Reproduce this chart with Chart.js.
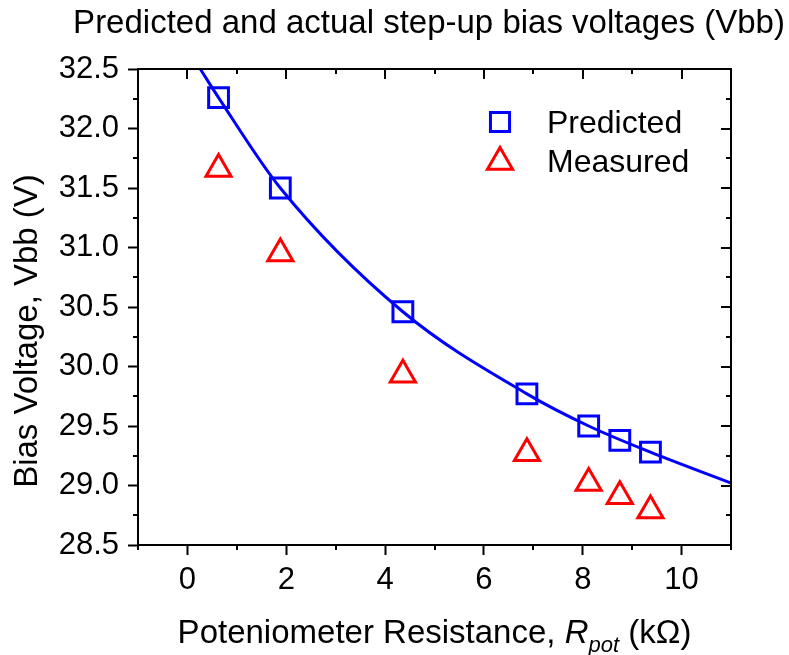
<!DOCTYPE html>
<html lang="en">
<head>
<meta charset="UTF-8">
<title>Predicted and actual step-up bias voltages (Vbb)</title>
<script src="https://cdn.jsdelivr.net/npm/chart.js"></script>
<style>
  body { margin: 0; background: #fff; }
  #wrap { width: 789px; height: 655px; }
</style>
</head>
<body>
<div id="wrap"><canvas id="chart" width="789" height="655"></canvas></div>
<script>
  // values
  const rPot = [0.63, 1.88, 4.36, 6.87, 8.12, 8.75, 9.37];
  const predicted = [32.26, 31.50, 30.46, 29.77, 29.50, 29.38, 29.28];
  const measured = [31.66, 30.95, 29.93, 29.27, 29.02, 28.91, 28.79];
  // fitted curve, points picked along the drawn line
  const fitX = [0.26, 0.63, 1.88, 4.36, 6.87, 8.12, 9.37, 11.0];
  const fitY = [32.50, 32.26, 31.50, 30.46, 29.77, 29.50, 29.28, 29.02];

  const xTicks = [0, 2, 4, 6, 8, 10];
  const xTickLabels = ['0', '2', '4', '6', '8', '10'];
  const xMinor = [-1, 1, 3, 5, 7, 9, 11];
  const yTicks = [28.5, 29.0, 29.5, 30.0, 30.5, 31.0, 31.5, 32.0, 32.5];
  const yTickLabels = ['28.5', '29.0', '29.5', '30.0', '30.5', '31.0', '31.5', '32.0', '32.5'];
  const yMinor = [28.75, 29.25, 29.75, 30.25, 30.75, 31.25, 31.75, 32.25];

  const FONT = '"Liberation Sans", Arial, sans-serif';
  const BLUE = '#0000ff';
  const RED = '#ff0000';

  const decor = {
    id: 'decor',
    afterDraw(chart) {
      const { ctx, chartArea: a, scales: { x, y } } = chart;
      ctx.save();
      ctx.strokeStyle = '#000';
      ctx.lineWidth = 2;

      // top and right frame
      ctx.beginPath();
      ctx.moveTo(a.left - 1, a.top);
      ctx.lineTo(a.right, a.top);
      ctx.lineTo(a.right, a.bottom + 1);
      ctx.stroke();

      ctx.beginPath();
      // bottom/left minor ticks (outward), top/right ticks (inward)
      xMinor.forEach(v => {
        const px = Math.round(x.getPixelForValue(v));
        ctx.moveTo(px, a.bottom); ctx.lineTo(px, a.bottom + 5);
        ctx.moveTo(px, a.top); ctx.lineTo(px, a.top + 5);
      });
      xTicks.forEach(v => {
        const px = Math.round(x.getPixelForValue(v));
        ctx.moveTo(px, a.top); ctx.lineTo(px, a.top + 10);
      });
      yMinor.forEach(v => {
        const py = Math.round(y.getPixelForValue(v));
        ctx.moveTo(a.left, py); ctx.lineTo(a.left - 5, py);
        ctx.moveTo(a.right, py); ctx.lineTo(a.right - 5, py);
      });
      yTicks.forEach(v => {
        const py = Math.round(y.getPixelForValue(v));
        ctx.moveTo(a.right, py); ctx.lineTo(a.right - 10, py);
      });
      ctx.stroke();

      ctx.fillStyle = '#000';
      // chart title
      ctx.font = '33px ' + FONT;
      ctx.textAlign = 'center';
      ctx.textBaseline = 'alphabetic';
      ctx.fillText('Predicted and actual step-up bias voltages (Vbb)', 429, 33);

      // y axis title
      ctx.save();
      ctx.translate(37, 331);
      ctx.rotate(-Math.PI / 2);
      ctx.fillText('Bias Voltage, Vbb (V)', 0, 0);
      ctx.restore();

      // x axis title with italic subscript
      const parts = [
        { t: 'Poteniometer Resistance, ', f: '33px ' + FONT, dy: 0 },
        { t: 'R', f: 'italic 33px ' + FONT, dy: 0 },
        { t: 'pot', f: 'italic 22px ' + FONT, dy: 9 },
        { t: ' (k\u03A9)', f: '33px ' + FONT, dy: 0 }
      ];
      let total = 0;
      parts.forEach(p => { ctx.font = p.f; p.w = ctx.measureText(p.t).width; total += p.w; });
      let cx = (a.left + a.right) / 2 - total / 2;
      ctx.textAlign = 'left';
      parts.forEach(p => {
        ctx.font = p.f;
        ctx.fillText(p.t, cx, 643 + p.dy);
        cx += p.w;
      });

      // legend inside the plot
      const h = Chart.helpers;
      const items = [
        { label: 'Predicted', style: 'rect', r: 13.5, color: BLUE, y: 122, ty: 133 },
        { label: 'Measured', style: 'triangle', r: 14.5, color: RED, y: 162, ty: 172 }
      ];
      ctx.font = '32px ' + FONT;
      items.forEach(it => {
        ctx.save();
        ctx.strokeStyle = it.color;
        ctx.fillStyle = 'rgba(0,0,0,0)';
        ctx.lineWidth = 3;
        h.drawPoint(ctx, { pointStyle: it.style, radius: it.r, borderWidth: 3, rotation: 0 }, 500, it.y);
        ctx.restore();
        ctx.fillStyle = '#000';
        ctx.fillText(it.label, 547, it.ty);
      });
      ctx.restore();
    }
  };

  const pts = (xs, ys) => xs.map((v, i) => ({ x: v, y: ys[i] }));

  new Chart(document.getElementById('chart'), {
    type: 'scatter',
    data: {
      datasets: [
        {
          label: 'Fit',
          data: pts(fitX, fitY),
          showLine: true,
          borderColor: BLUE,
          borderWidth: 3,
          pointRadius: 0,
          cubicInterpolationMode: 'monotone',
          fill: false
        },
        {
          label: 'Predicted',
          data: pts(rPot, predicted),
          pointStyle: 'rect',
          pointRadius: 14,
          borderColor: BLUE,
          borderWidth: 3,
          backgroundColor: 'rgba(0,0,0,0)'
        },
        {
          label: 'Measured',
          data: pts(rPot, measured),
          pointStyle: 'triangle',
          pointRadius: 14.5,
          borderColor: RED,
          borderWidth: 3,
          backgroundColor: 'rgba(0,0,0,0)'
        }
      ]
    },
    options: {
      responsive: false,
      animation: false,
      layout: { padding: { top: 69, right: 58, left: 0, bottom: 0 } },
      plugins: {
        legend: { display: false },
        title: { display: false },
        tooltip: { enabled: false }
      },
      scales: {
        x: {
          type: 'linear',
          min: -1,
          max: 11,
          afterBuildTicks: s => { s.ticks = xTicks.map(v => ({ value: v })); },
          afterFit: s => { s.height = 110; },
          grid: { drawOnChartArea: false, drawTicks: true, tickLength: 10, tickWidth: 2, tickColor: '#000' },
          border: { color: '#000', width: 2 },
          ticks: {
            autoSkip: false,
            maxRotation: 0,
            padding: 7,
            color: '#000',
            font: { family: FONT, size: 31 },
            callback: (v, i) => xTickLabels[i]
          }
        },
        y: {
          type: 'linear',
          min: 28.5,
          max: 32.5,
          afterBuildTicks: s => { s.ticks = yTicks.map(v => ({ value: v })); },
          afterFit: s => { s.width = 138; },
          grid: { drawOnChartArea: false, drawTicks: true, tickLength: 10, tickWidth: 2, tickColor: '#000' },
          border: { color: '#000', width: 2 },
          ticks: {
            autoSkip: false,
            padding: 9,
            color: '#000',
            font: { family: FONT, size: 31 },
            callback: (v, i) => yTickLabels[i]
          }
        }
      }
    },
    plugins: [decor]
  });
</script>
</body>
</html>
